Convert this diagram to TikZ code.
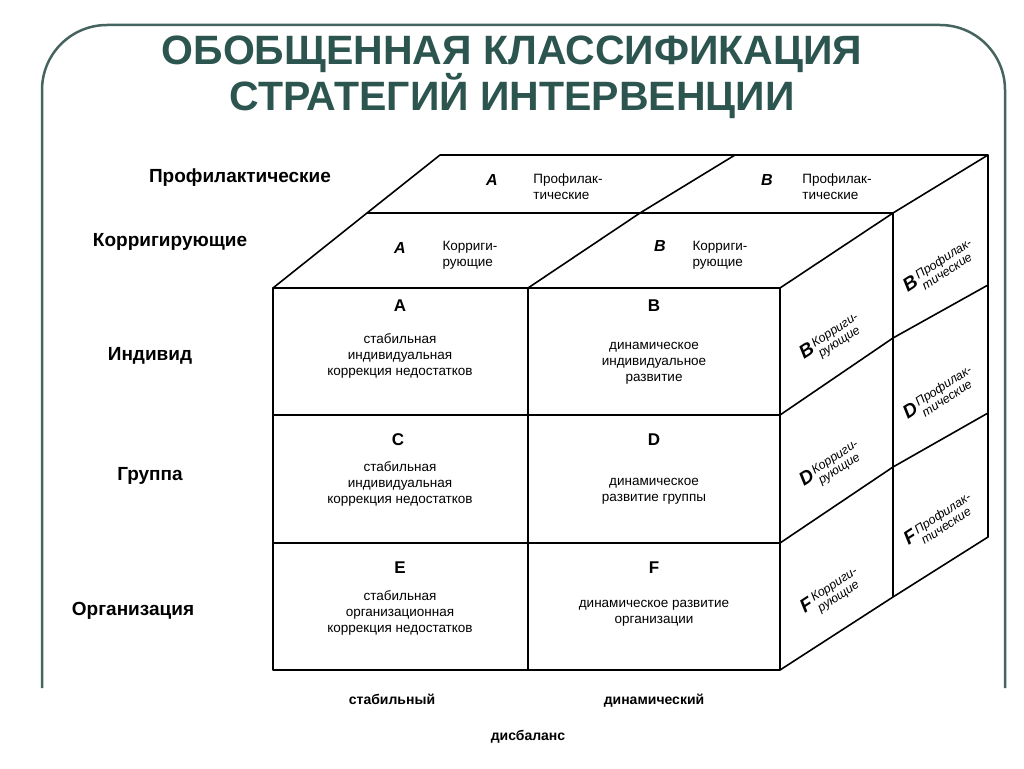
\documentclass[tikz,border=0pt]{standalone}
\usepackage{fontspec}
\setmainfont{Liberation Sans}
\newcommand{\sidetext}[2]{{\bfseries\fontsize{19}{19}\selectfont #1}\,\raisebox{-8pt}{\shortstack[l]{#2}}}
\begin{document}
\begin{tikzpicture}[x=1pt,y=-1pt,
  edge/.style={line width=1.6pt,line join=round},
  cell/.style={align=center,font=\fontsize{13.5}{16}\selectfont},
  lab/.style={font=\bfseries\fontsize{19}{22}\selectfont},
  axis/.style={font=\bfseries\fontsize{14}{16}\selectfont},
  side/.style={inner sep=0pt,font=\itshape\fontsize{12.5}{13}\selectfont,rotate=33},
  big/.style={font=\bfseries\fontsize{17}{18}\selectfont},
  bigi/.style={font=\bfseries\itshape\fontsize{16}{18}\selectfont}]
\useasboundingbox (0,0) rectangle (1024,768);
\fill[white] (0,0) rectangle (1024,768);
% frame
\draw[line width=2.5pt,color={rgb,255:red,70;green,100;blue,95},rounded corners=65]
  (42,688) -- (42,25) -- (1005,25) -- (1005,688);
\node[font=\bfseries\fontsize{41}{46}\selectfont,color={rgb,255:red,45;green,85;blue,80},align=center] (title) at (512,77)
  {ОБОБЩЕННАЯ КЛАССИФИКАЦИЯ\\СТРАТЕГИЙ ИНТЕРВЕНЦИИ};
% cube
\coordinate (f1) at (273,288); \coordinate (f2) at (528,288); \coordinate (f3) at (780,288);
\coordinate (m1) at (367,213); \coordinate (m2) at (640,213); \coordinate (m3) at (893,213);
\coordinate (b1) at (440,155); \coordinate (b2) at (735,155); \coordinate (b3) at (988,155);
\draw[edge] (273,288) rectangle (780,670);
\draw[edge] (528,288) -- (528,670);
\draw[edge] (273,415) -- (780,415) (273,543) -- (780,543);
\draw[edge] (f1) -- (m1) -- (b1) -- (b3) -- (988,537) -- (893,597) -- (780,670);
\draw[edge] (m1) -- (m3) -- (f3);
\draw[edge] (f2) -- (m2) -- (b2);
\draw[edge] (m3) -- (b3);
\draw[edge] (m3) -- (893,597);
\draw[edge] (780,415) -- (893,338) -- (988,285);
\draw[edge] (780,543) -- (893,467) -- (988,413);
% left labels
\node[lab] (l1) at (240,178) {Профилактические};
\node[lab] (l2) at (170,242) {Корригирующие};
\node[lab] (l3) at (150,356) {Индивид};
\node[lab] (l4) at (150,476) {Группа};
\node[lab] (l5) at (133,611) {Организация};
% top face
\node[bigi] (ta) at (492,180) {A};
\node[cell,align=left] (tat) at (568,187) {Профилак-\\тические};
\node[bigi] (tb) at (767,180) {B};
\node[cell,align=left] (tbt) at (837,187) {Профилак-\\тические};
\node[bigi] (tc) at (400,248) {A};
\node[cell,align=left] (tct) at (470,255) {Корриги-\\рующие};
\node[bigi] (td) at (660,246) {B};
\node[cell,align=left] (tdt) at (720,255) {Корриги-\\рующие};
% front cells
\node[big] (ca) at (400,306) {A};
\node[cell] (cat) at (400,356) {стабильная\\индивидуальная\\коррекция недостатков};
\node[big] (cb) at (654,306) {B};
\node[cell] (cbt) at (654,363) {динамическое\\индивидуальное\\развитие};
\node[big] (cc) at (398,440) {C};
\node[cell] (cct) at (400,484) {стабильная\\индивидуальная\\коррекция недостатков};
\node[big] (cd) at (654,440) {D};
\node[cell] (cdt) at (654,491) {динамическое\\развитие группы};
\node[big] (ce) at (400,568) {E};
\node[cell] (cet) at (400,613) {стабильная\\организационная\\коррекция недостатков};
\node[big] (cf) at (654,568) {F};
\node[cell] (cft) at (654,613) {динамическое развитие\\организации};
% right face
\node[side] (r1) at (832,340) {\sidetext{B}{Корриги-\\рующие}};
\node[side] (r2) at (832,467) {\sidetext{D}{Корриги-\\рующие}};
\node[side] (r3) at (832,594) {\sidetext{F}{Корриги-\\рующие}};
\node[side] (r4) at (940,268) {\sidetext{B}{Профилак-\\тические}};
\node[side] (r5) at (940,395) {\sidetext{D}{Профилак-\\тические}};
\node[side] (r6) at (940,522) {\sidetext{F}{Профилак-\\тические}};
% axis
\node[axis] (x1) at (392,699) {стабильный};
\node[axis] (x2) at (654,701) {динамический};
\node[axis] (x3) at (528,737) {дисбаланс};
\end{tikzpicture}
\end{document}
